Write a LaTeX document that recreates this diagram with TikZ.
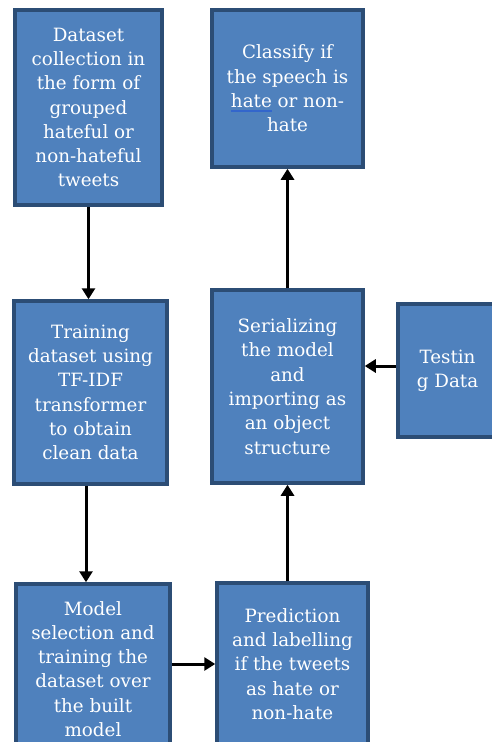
\documentclass[tikz,border=0pt]{standalone}
\usepackage{fontspec}
\newfontfamily\boxfont{DejaVu Serif}
\usetikzlibrary{arrows.meta}
\definecolor{boxfill}{HTML}{4F81BD}
\definecolor{boxline}{HTML}{2C4D75}
\definecolor{ulblue}{HTML}{3366CC}
\newcommand\spellul[1]{\setbox0\hbox{#1}\rlap{\textcolor{ulblue}{\rule[-5pt]{\wd0}{2pt}}}#1}
\tikzset{
  flowbox/.style={draw=boxline, line width=3.5pt, fill=boxfill, text=white,
    align=center, inner sep=0pt, font=\boxfont\fontsize{18.3}{24.3}\selectfont},
  flowarrow/.style={draw=black, line width=3pt, -{Triangle[width=13pt,length=11pt]}}
}
\begin{document}
\begin{tikzpicture}[x=1pt,y=-1pt]
\useasboundingbox (0,0) rectangle (492,742);
\fill[white] (0,0) rectangle (492,742);
\begin{scope}
\clip (0,0) rectangle (492,742);
\node[flowbox, minimum width=147pt, minimum height=195pt] (b1) at (88.5,107.5)
  {Dataset\\collection in\\the form of\\grouped\\hateful or\\non-hateful\\tweets};
\node[flowbox, minimum width=151pt, minimum height=157pt] (b2) at (287.5,88.5)
  {Classify if\\the speech is\\\spellul{hate} or non-\\hate};
\node[flowbox, minimum width=153pt, minimum height=183pt] (b3) at (90.5,392.5)
  {Training\\dataset using\\TF-IDF\\transformer\\to obtain\\clean data};
\node[flowbox, minimum width=151pt, minimum height=193pt] (b4) at (287.5,386.5)
  {Serializing\\the model\\and\\importing as\\an object\\structure};
\node[flowbox, minimum width=99pt, minimum height=133pt] (b5) at (447.5,370.5)
  {Testin\\g Data};
\node[flowbox, minimum width=154pt, minimum height=170pt] (b6) at (93,669)
  {Model\\selection and\\training the\\dataset over\\the built\\model};
\node[flowbox, minimum width=151pt, minimum height=162pt] (b7) at (292.5,664)
  {Prediction\\and labelling\\if the tweets\\as hate or\\non-hate};
\end{scope}
\draw[flowarrow] (b1.south) -- (b1.south |- b3.north);
\draw[flowarrow] ([xshift=-4.5pt]b3.south) -- ([xshift=-4.5pt]b3.south |- b6.north);
\draw[flowarrow] (b6.east |- b7.west) -- (b7.west);
\draw[flowarrow] (b4.south |- b7.north) -- (b4.south);
\draw[flowarrow] (b4.north) -- (b2.south);
\draw[flowarrow] ([yshift=4.5pt]b5.west) -- ([yshift=4.5pt]b5.west -| b4.east);
\end{tikzpicture}
\end{document}
